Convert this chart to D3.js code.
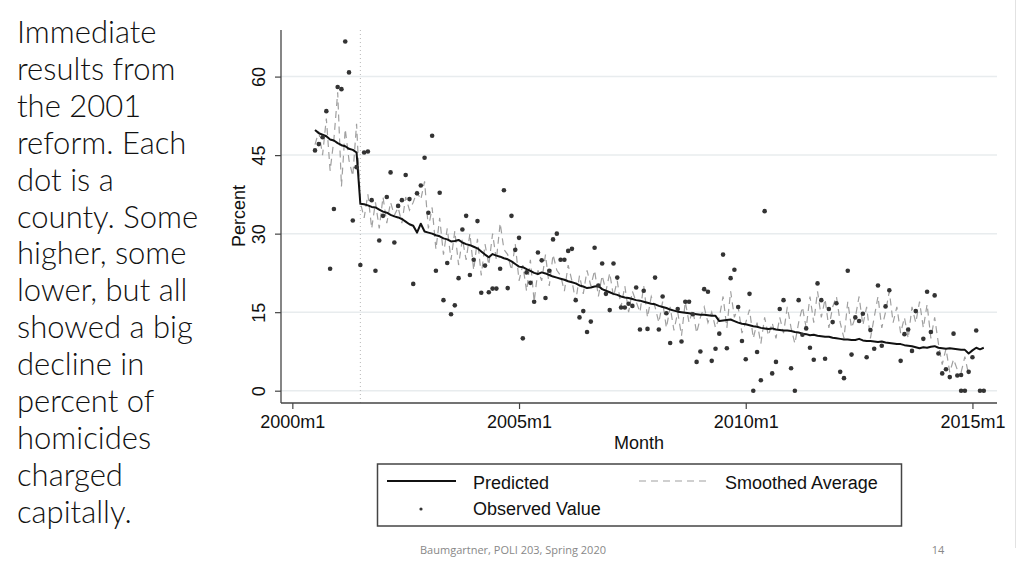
<!DOCTYPE html>
<html><head><meta charset="utf-8">
<script src="https://cdn.jsdelivr.net/npm/d3@7/dist/d3.min.js"></script>
<style>
html,body{margin:0;padding:0;background:#fff;}
svg{display:block;}
</style></head>
<body>
<svg id="chart" width="1024" height="576"></svg>
<script>
// ---------- data ----------
const sideText = ["Immediate","results from","the 2001","reform. Each","dot is a","county. Some","higher, some","lower, but all","showed a big","decline in","percent of","homicides","charged","capitally."];
const footerText = "Baumgartner, POLI 203, Spring 2020";
const pageNumber = "14";

const xTickMonths = [0, 60, 120, 180];           // months since 2000m1
const xTickLabels = ["2000m1","2005m1","2010m1","2015m1"];
const yTicks = [0, 15, 30, 45, 60];
const reformMonth = 18;                           // 2001m7

const predictedStart = 6;
const predictedValues = [
 49.8,49.2,48.9,48.6,48.0,47.8,47.3,46.9,46.7,46.2,46.0,45.5,
 35.7,35.6,35.4,35.1,35.0,34.6,34.2,34.0,33.6,33.3,33.1,32.8,
 32.3,31.8,31.5,30.2,31.9,30.4,30.2,30.0,29.7,29.5,29.1,28.9,
 28.5,28.6,28.8,28.3,28.0,27.8,27.5,27.2,26.6,26.0,25.5,26.1,
 25.8,25.6,25.3,25.1,24.7,24.2,23.7,23.6,23.2,22.9,22.5,22.3,
 22.6,22.4,22.1,21.8,21.6,21.4,21.2,20.9,20.7,20.5,20.1,19.9,
 19.6,19.7,19.9,20.0,19.4,19.1,18.8,18.5,18.3,18.0,17.8,17.7,
 17.5,17.3,17.2,17.0,16.8,16.6,16.5,16.2,16.0,15.8,15.5,15.3,
 15.1,15.0,14.9,14.8,14.7,14.6,14.5,14.5,14.4,14.3,14.3,13.3,
 13.4,13.5,13.6,13.3,13.0,12.8,12.7,12.5,12.3,12.2,12.0,11.9,
 11.8,11.9,11.7,11.6,11.5,11.5,11.4,11.2,11.1,10.9,10.8,10.6,
 10.7,10.5,10.4,10.3,10.3,10.1,10.0,9.9,9.8,9.8,9.7,9.7,
 9.9,9.6,9.5,9.5,9.4,9.3,9.4,9.2,9.1,9.0,8.9,8.9,
 8.7,8.6,8.5,8.3,8.1,8.3,8.2,8.4,8.5,8.2,8.1,8.0,
 8.1,8.0,7.9,7.8,7.8,7.1,7.7,8.2,7.9,8.2
];

const smoothedStart = 6;
const smoothedValues = [
 47,49.5,45,52,42,48,57,39,50,44,41,51,
 36,33,37.5,31,36,31,37,32,36,33.5,35,32,
 37,34.5,36,38,36.5,40,31,35,27,33,26,31,
 25,30.5,24,29,25,30,23,29,22,28,24,30,
 25,32,27,26,23,28,21,24,19,25,17,23,
 21,26,20,26,23,22,19,24,21,17,22,18.5,
 23,20,23,18,22,19,22.5,18,21,16,20,15,
 19,17,15,20,14,18,16,13,17,12,16,11.5,
 15,10.5,17,13,15.5,11,14,16,13,15,12,14,
 18,12,19,14,16,11,13,15.5,10,13,9,14,
 10.5,13,10,14,11,16,12,9,13,16,12,18,
 13,19,14,17.5,12,16,18,13,10,17,12,14,
 18,12.5,16,10,14,18,12,15,19,13,16,11,
 14,10,16,13,17,12,16.5,10,14,9,5,8,
 3.5,6,4,3.5,6.5,3
];

const observedMonths = [
 6,7,8,9,10,11,12,13,14,15,16,17,18,19,20,21,22,23,24,25,26,27,28,29,30,31,32,33,34,35,36,37,38,39,40,
 41,42,43,44,45,46,47,48,49,50,51,52,53,54,55,56,57,58,59,60,61,62,63,64,65,66,67,68,69,70,71,72,73,74,75,
 76,77,78,79,80,81,82,83,84,85,86,87,88,89,90,91,92,93,94,96,97,98,99,100,102,103,104,105,106,107,108,109,110,
 111,112,113,114,115,116,117,118,119,120,121,122,123,124,125,127,128,129,130,132,133,134,135,136,137,138,139,140,
 141,142,143,144,145,146,147,148,149,150,151,152,153,154,155,156,157,158,161,162,163,164,165,167,168,169,170,
 171,172,173,174,175,176,177,177,178,179,180,181,182,183
];
const observedValues = [
 45.9,47.1,48.4,53.4,23.3,34.7,58.0,57.6,66.7,60.8,32.5,42.7,24.0,45.5,45.7,36.4,22.9,28.7,33.4,37.0,41.7,28.3,35.3,36.4,41.2,36.6,20.4,37.7,39.2,44.5,34.0,48.7,22.9,37.8,17.3,
 24.4,14.6,16.3,21.5,30.8,33.4,22.1,25.0,32.4,18.7,23.9,18.8,19.5,19.5,23.3,38.3,19.6,33.4,26.9,29.2,10.0,22.6,20.6,17.0,26.4,24.9,17.7,22.9,28.9,30.0,25.0,25.0,26.7,27.1,17.3,
 14.0,15.2,11.2,13.2,27.3,20.1,24.3,18.5,15.4,24.3,21.6,15.9,15.9,16.6,16.2,19.7,11.7,19.1,11.8,21.6,11.7,18.0,14.8,9.1,15.6,9.4,17.0,17.0,14.6,5.5,7.5,19.4,18.9,
 5.7,8.0,10.9,26.0,8.1,21.5,23.1,16.0,9.5,6.0,18.5,0,7.4,2.0,34.3,3.3,5.5,15.6,17.3,4.3,0,17.3,10.7,11.9,8.2,5.9,20.5,17.3,
 6.1,15.6,13.1,16.7,3.6,2.4,22.9,6.9,14.0,13.3,14.7,6.4,11.6,8.0,20.1,8.6,16.1,19.2,5.7,10.8,11.7,7.6,15.2,9.9,18.9,11.2,18.2,
 7.1,3.3,4.1,2.6,10.9,2.9,3.0,0,0,3.6,6.4,11.5,0,0
];

const legendLabels = ["Predicted","Smoothed Average","Observed Value"];

// ---------- drawing ----------
const svg = d3.select("#chart");
const axisFont = "'Liberation Sans', Arial, Helvetica, sans-serif";

// side text
const side = svg.append("g").attr("font-family","Lato, 'Open Sans', sans-serif")
  .attr("font-weight",300).attr("fill","#111");
const sideTexts = side.selectAll("text").data(sideText).join("text")
  .attr("x",17).attr("y",(d,i)=>43 + i*36.9).attr("font-size",28).text(d=>d);
// fit width so "county. Some" spans ~183px
const ref = sideTexts.filter(d=>d==="county. Some").node();
if (ref) {
  const w = ref.getComputedTextLength();
  const fs = 28 * 183 / w;
  sideTexts.attr("font-size", Math.min(31, Math.max(22, fs)));
}

// scales
const x = d3.scaleLinear().domain([-3, 186.5]).range([281, 997]);
const y = d3.scaleLinear().domain([-2.35, 68.9]).range([403, 30]);

// gridlines
svg.append("g").selectAll("line").data(yTicks).join("line")
  .attr("x1",281).attr("x2",997)
  .attr("y1",d=>y(d)).attr("y2",d=>y(d))
  .attr("stroke","#e8ecee").attr("stroke-width",1.5);

// reform line
svg.append("line")
  .attr("x1",x(reformMonth)).attr("x2",x(reformMonth))
  .attr("y1",30).attr("y2",403)
  .attr("stroke","#b8b8b8").attr("stroke-width",1).attr("stroke-dasharray","1,3");

// y axis
const yAxis = svg.append("g").attr("transform","translate(281,0)")
  .call(d3.axisLeft(y).tickValues(yTicks).tickSize(6).tickPadding(14).tickFormat(d3.format("d")));
yAxis.select(".domain").attr("stroke","#444").attr("stroke-width",1.3).attr("d","M0,30V403");
yAxis.selectAll(".tick line").attr("stroke","#444").attr("stroke-width",1.2);
yAxis.selectAll(".tick text")
  .attr("font-family",axisFont).attr("font-size",18).attr("fill","#111")
  .attr("text-anchor","middle").attr("dy",null).attr("x",null)
  .attr("transform","translate(-22,0) rotate(-90)")
  .attr("dominant-baseline","central");

// x axis
const xAxis = svg.append("g").attr("transform","translate(0,403)")
  .call(d3.axisBottom(x).tickValues(xTickMonths).tickSize(6).tickPadding(6)
    .tickFormat((d,i)=>xTickLabels[i]));
xAxis.select(".domain").attr("stroke","#444").attr("stroke-width",1.3).attr("d","M281,0H997");
xAxis.selectAll(".tick line").attr("stroke","#444").attr("stroke-width",1.2);
xAxis.selectAll(".tick text").attr("font-family",axisFont).attr("font-size",18).attr("fill","#111");

// axis titles
svg.append("text").attr("x",639).attr("y",449).attr("text-anchor","middle")
  .attr("font-family",axisFont).attr("font-size",18).attr("fill","#111").text("Month");
svg.append("text").attr("transform","translate(245,216) rotate(-90)").attr("text-anchor","middle")
  .attr("font-family",axisFont).attr("font-size",18).attr("fill","#111").text("Percent");

// smoothed average
const smoothedData = smoothedValues.map((v,i)=>({t:smoothedStart+i, v}));
svg.append("path").datum(smoothedData)
  .attr("d", d3.line().x(d=>x(d.t)).y(d=>y(d.v)))
  .attr("fill","none").attr("stroke","#a0a0a0").attr("stroke-width",1.2)
  .attr("stroke-dasharray","7,5");

// predicted
const predictedData = predictedValues.map((v,i)=>({t:predictedStart+i, v}));
svg.append("path").datum(predictedData)
  .attr("d", d3.line().x(d=>x(d.t)).y(d=>y(d.v)))
  .attr("fill","none").attr("stroke","#111").attr("stroke-width",2)
  .attr("stroke-linejoin","round");

// observed
const obs = observedMonths.map((t,i)=>({t, v:observedValues[i]}));
svg.append("g").selectAll("circle").data(obs).join("circle")
  .attr("cx",d=>x(d.t)).attr("cy",d=>y(d.v)).attr("r",2.3).attr("fill","#333");

// legend
const lg = svg.append("g");
lg.append("rect").attr("x",377.5).attr("y",464).attr("width",524).attr("height",62)
  .attr("fill","#fff").attr("stroke","#444").attr("stroke-width",1.5);
lg.append("line").attr("x1",387).attr("x2",456).attr("y1",481).attr("y2",481)
  .attr("stroke","#111").attr("stroke-width",1.8);
lg.append("line").attr("x1",639).attr("x2",709).attr("y1",481).attr("y2",481)
  .attr("stroke","#a0a0a0").attr("stroke-width",1.2).attr("stroke-dasharray","7,5");
lg.append("circle").attr("cx",421).attr("cy",509).attr("r",1.6).attr("fill","#333");
const legPos = [[473,489],[725,489],[473,515]];
lg.selectAll("text").data(legendLabels).join("text")
  .attr("x",(d,i)=>legPos[i][0]).attr("y",(d,i)=>legPos[i][1])
  .attr("font-family",axisFont).attr("font-size",18).attr("fill","#111").text(d=>d);

// footer
svg.append("text").attr("x",513).attr("y",554).attr("text-anchor","middle")
  .attr("font-family","'Open Sans', Calibri, sans-serif").attr("font-size",11).attr("fill","#888").text(footerText);
svg.append("text").attr("x",938).attr("y",554).attr("text-anchor","middle")
  .attr("font-family","'Open Sans', Calibri, sans-serif").attr("font-size",11).attr("fill","#888").text(pageNumber);
// right edge line
svg.append("line").attr("x1",1015.5).attr("x2",1015.5).attr("y1",0).attr("y2",548)
  .attr("stroke","#e2e2e2").attr("stroke-width",1);
</script>
</body></html>
